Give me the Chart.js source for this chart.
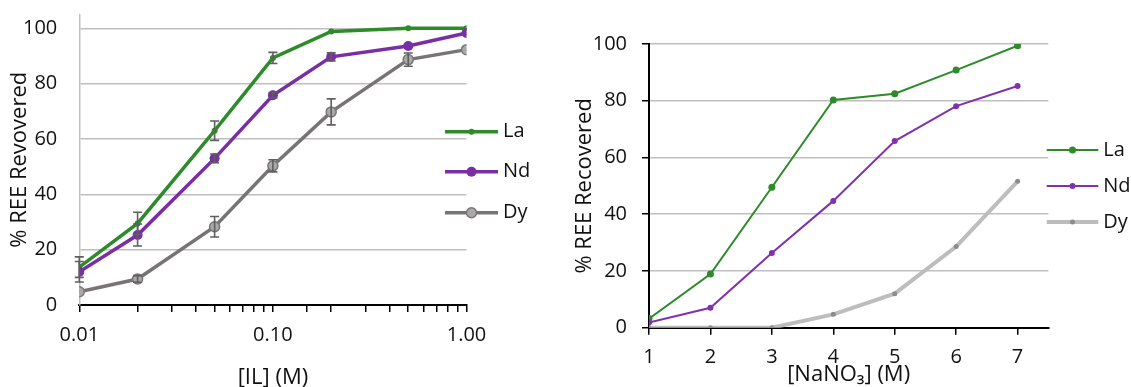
<!DOCTYPE html>
<html>
<head>
<meta charset="utf-8">
<script src="https://cdn.jsdelivr.net/npm/chart.js@4/dist/chart.umd.min.js"></script>
<style>
  html, body { margin: 0; padding: 0; background: #fff; }
  .box { position: absolute; top: 0; height: 387px; }
  #left { left: 0; width: 560px; }
  #right { left: 560px; width: 571px; }
</style>
</head>
<body>
<div class="box" id="left"><canvas id="ilChart"></canvas></div>
<div class="box" id="right"><canvas id="nitrateChart"></canvas></div>
<script>
// left panel: recovery vs ionic liquid concentration
const ilConc = [0.01, 0.02, 0.05, 0.1, 0.2, 0.5, 1.0];
const laIL = [13.7, 29.5, 63, 89.3, 98.9, 100, 100];
const ndIL = [12, 25.3, 53, 75.8, 89.7, 93.6, 98.3];
const dyIL = [4.8, 9.4, 28.3, 50.3, 69.8, 88.7, 92.3];
const laErr = [3.7, 4, 3.5, 2, 0, 0, 0];
const ndErr = [3.7, 4, 1.6, 1, 1.5, 0, 0];
const dyErr = [0, 1.2, 3.7, 2.2, 4.7, 2.4, 0];

// right panel: recovery vs NaNO3 concentration
const nitrateConc = [1, 2, 3, 4, 5, 6, 7];
const laNO3 = [3.2, 18.9, 49.5, 80.3, 82.5, 90.8, 99.4];
const ndNO3 = [1.8, 7, 26.3, 44.7, 65.8, 78.1, 85.2];
const dyNO3 = [0, 0, 0, 4.7, 12, 28.6, 51.6];

const elements = ["La", "Nd", "Dy"];

Chart.defaults.font.family = "'Open Sans', sans-serif";
Chart.defaults.color = "#111";

function pts(xs, ys) {
  return xs.map((x, i) => ({ x: x, y: ys[i] }));
}

// vertical error bars with caps, from dataset.errors
const errorBars = {
  id: "errorBars",
  afterDatasetsDraw(chart) {
    const ctx = chart.ctx;
    const yScale = chart.scales.y;
    chart.data.datasets.forEach((ds, i) => {
      if (!ds.errors) return;
      const meta = chart.getDatasetMeta(i);
      ctx.save();
      ctx.strokeStyle = "#5f5f5f";
      ctx.lineWidth = 1.6;
      meta.data.forEach((pt, j) => {
        const e = ds.errors[j];
        if (!e) return;
        const v = ds.data[j].y;
        const top = yScale.getPixelForValue(v + e);
        const bot = yScale.getPixelForValue(v - e);
        ctx.beginPath();
        ctx.moveTo(pt.x, top); ctx.lineTo(pt.x, bot);
        ctx.moveTo(pt.x - 4.5, top); ctx.lineTo(pt.x + 4.5, top);
        ctx.moveTo(pt.x - 4.5, bot); ctx.lineTo(pt.x + 4.5, bot);
        ctx.stroke();
      });
      ctx.restore();
    });
  }
};

// Excel style legend to the right of the plot
const sideLegend = {
  id: "sideLegend",
  afterDraw(chart, args, opts) {
    const ctx = chart.ctx;
    chart.data.datasets.forEach((ds, i) => {
      const y = opts.ys[i];
      ctx.save();
      ctx.strokeStyle = ds.borderColor;
      ctx.lineWidth = ds.borderWidth;
      ctx.beginPath();
      ctx.moveTo(opts.x1, y);
      ctx.lineTo(opts.x2, y);
      ctx.stroke();
      ctx.beginPath();
      ctx.arc((opts.x1 + opts.x2) / 2, y, ds.pointRadius, 0, Math.PI * 2);
      ctx.fillStyle = ds.pointBackgroundColor;
      ctx.fill();
      if (ds.pointBorderWidth) {
        ctx.lineWidth = ds.pointBorderWidth;
        ctx.strokeStyle = ds.pointBorderColor;
        ctx.stroke();
      }
      ctx.fillStyle = "#111";
      ctx.font = "20px 'Open Sans', sans-serif";
      ctx.textBaseline = "middle";
      ctx.fillText(ds.label, opts.tx, y);
      ctx.restore();
    });
  }
};

new Chart(document.getElementById("ilChart"), {
  type: "line",
  data: {
    datasets: [
      { label: elements[0], data: pts(ilConc, laIL), errors: laErr, borderColor: "#2e8b2a", borderWidth: 3.5,
        pointRadius: 3, pointBackgroundColor: "#2e8b2a", pointBorderWidth: 0, order: 3 },
      { label: elements[1], data: pts(ilConc, ndIL), errors: ndErr, borderColor: "#7a2ea6", borderWidth: 3.5,
        pointRadius: 5, pointBackgroundColor: "#7a2ea6", pointBorderWidth: 0, order: 2 },
      { label: elements[2], data: pts(ilConc, dyIL), errors: dyErr, borderColor: "#787474", borderWidth: 3.5,
        pointRadius: 5, pointBackgroundColor: "#a9a9a9", pointBorderColor: "#7a7676", pointBorderWidth: 1.5, order: 1 }
    ]
  },
  options: {
    responsive: true,
    maintainAspectRatio: false,
    animation: false,
    layout: { padding: { left: 0, top: 14.5, right: 93.5, bottom: 0 } },
    plugins: {
      legend: { display: false },
      tooltip: { enabled: false },
      sideLegend: { x1: 445, x2: 498, tx: 503, ys: [131.7, 171.7, 212.7] }
    },
    scales: {
      x: {
        type: "logarithmic",
        min: 0.01,
        max: 1,
        afterFit: (s) => { s.height = 82; },
        border: { color: "#000", width: 2 },
        grid: { drawOnChartArea: false, drawTicks: true, tickLength: 7, tickColor: "#000", lineWidth: 1.5 },
        ticks: {
          autoSkip: false, maxRotation: 0, padding: 11,
          font: { size: 20 },
          callback: (v) => {
            const l = Math.log10(v);
            return Math.abs(l - Math.round(l)) < 1e-6 ? v.toFixed(2) : "";
          }
        },
        title: { display: true, text: "[IL] (M)", font: { size: 22 }, padding: { top: 0, bottom: -4 } }
      },
      y: {
        min: 0,
        max: 105,
        afterFit: (s) => { s.width = 79.3; },
        border: { color: "#bfbfbf", width: 1.5 },
        // invisible tick marks make the gap between labels and axis
        grid: { color: "#bfbfbf", lineWidth: 1.5, drawTicks: true, tickLength: 22, tickColor: "rgba(0,0,0,0)" },
        ticks: { stepSize: 20, includeBounds: false, padding: 0, font: { size: 20 } },
        title: { display: true, text: "% REE Revovered", font: { size: 22 }, padding: { top: 7, bottom: 0 } }
      }
    }
  },
  plugins: [errorBars, sideLegend]
});

new Chart(document.getElementById("nitrateChart"), {
  type: "line",
  data: {
    datasets: [
      { label: elements[0], data: pts(nitrateConc, laNO3), borderColor: "#2e8b2a", borderWidth: 2,
        pointRadius: 3.5, pointBackgroundColor: "#2e8b2a", pointBorderWidth: 0, order: 3 },
      { label: elements[1], data: pts(nitrateConc, ndNO3), borderColor: "#8031b0", borderWidth: 2,
        pointRadius: 3, pointBackgroundColor: "#8031b0", pointBorderWidth: 0, order: 2 },
      { label: elements[2], data: pts(nitrateConc, dyNO3), borderColor: "#bdbdbd", borderWidth: 4,
        pointRadius: 2.5, pointBackgroundColor: "#8c8c8c", pointBorderWidth: 0, order: 1 }
    ]
  },
  options: {
    responsive: true,
    maintainAspectRatio: false,
    animation: false,
    layout: { padding: { left: 0, top: 44, right: 82.7, bottom: 0 } },
    plugins: {
      legend: { display: false },
      tooltip: { enabled: false },
      sideLegend: { x1: 486.7, x2: 538.3, tx: 543.3, ys: [150, 186, 222] }
    },
    scales: {
      x: {
        type: "linear",
        min: 1,
        max: 7.5,
        afterFit: (s) => { s.height = 59.3; },
        border: { color: "#000", width: 2 },
        grid: { drawOnChartArea: false, drawTicks: true, tickLength: 7, tickColor: "#000", lineWidth: 1.5 },
        ticks: { stepSize: 1, includeBounds: false, autoSkip: false, maxRotation: 0, padding: 11, font: { size: 20 } },
        title: { display: true, text: "[NaNO₃] (M)", font: { size: 22 }, padding: { top: 0, bottom: -1 } }
      },
      y: {
        min: 0,
        max: 100,
        afterFit: (s) => { s.width = 89; },
        border: { color: "#000", width: 2 },
        grid: {
          color: (c) => (c.tick && c.tick.value === 0 ? "rgba(0,0,0,0)" : "#bfbfbf"),
          lineWidth: 1.5, drawTicks: true, tickLength: 7, tickColor: "#000"
        },
        ticks: { stepSize: 20, padding: 15, font: { size: 20 } },
        title: { display: true, text: "% REE Recovered", font: { size: 22 }, padding: { top: 12, bottom: 0 } }
      }
    }
  },
  plugins: [sideLegend]
});
</script>
</body>
</html>
